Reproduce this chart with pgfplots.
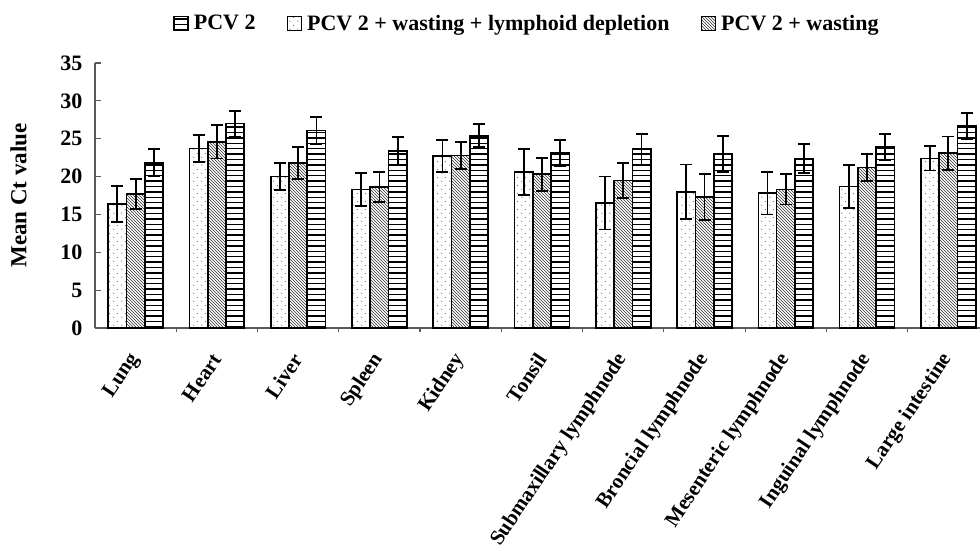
\documentclass[border=0pt]{standalone}
\usepackage{pgfplots}
\pgfplotsset{compat=1.18}
\usepackage{fontspec}
\setmainfont{Liberation Serif}
\usetikzlibrary{patterns}

\pgfdeclarepatternformonly{sparsedots}{\pgfqpoint{0pt}{0pt}}{\pgfqpoint{8pt}{8pt}}{\pgfqpoint{8pt}{8pt}}{%
  \pgfpathcircle{\pgfqpoint{2pt}{2pt}}{0.6pt}%
  \pgfpathcircle{\pgfqpoint{6pt}{6pt}}{0.6pt}%
  \pgfusepath{fill}}
\pgfdeclarepatternformonly{hlines}{\pgfqpoint{-1pt}{0pt}}{\pgfqpoint{6pt}{5.4pt}}{\pgfqpoint{5.4pt}{5.4pt}}{%
  \pgfsetlinewidth{1.3pt}%
  \pgfpathmoveto{\pgfqpoint{-1pt}{2.7pt}}\pgfpathlineto{\pgfqpoint{6pt}{2.7pt}}%
  \pgfusepath{stroke}}
\pgfdeclarepatternformonly{nwlines}{\pgfqpoint{-1pt}{-1pt}}{\pgfqpoint{4pt}{4pt}}{\pgfqpoint{3pt}{3pt}}{%
  \pgfsetlinewidth{0.6pt}%
  \pgfpathmoveto{\pgfqpoint{0pt}{3pt}}\pgfpathlineto{\pgfqpoint{3.1pt}{-0.1pt}}%
  \pgfusepath{stroke}}

\begin{document}
\begin{tikzpicture}
\begin{axis}[
  scale only axis,
  width=885pt, height=265pt,
  xmin=-0.5, xmax=10.39,
  ymin=0, ymax=35,
  ytick={0,5,...,35},
  xtick={0,...,10},
  xticklabels={Lung,Heart,Liver,Spleen,Kidney,Tonsil,Submaxillary lymphnode,Broncial lymphnode,Mesenteric lymphnode,Inguinal lymphnode,Large intestine},
  minor xtick={0.5,1.5,...,9.5},
  major x tick style={draw=none},
  minor tick length=4pt,
  major tick length=6pt,
  tick align=inside,
  axis lines*=left,
  axis line style={black!65, line width=1.4pt},
  tick style={black!65, line width=1.2pt},
  /pgf/number format/assume math mode=true,
  yticklabel style={font=\fontsize{22}{22}\selectfont\bfseries, xshift=-9pt},
  xticklabel style={font=\fontsize{21}{21}\selectfont\bfseries, rotate=56, anchor=east, inner sep=1pt, yshift=-12pt, xshift=-17pt},
  ylabel={Mean Ct value},
  ylabel style={font=\fontsize{23}{23}\selectfont\bfseries, yshift=27pt},
  ybar,
  bar width=0.225,
  error bars/y dir=both,
  error bars/y explicit,
  error bars/error bar style={line width=1.8pt, black},
  error bars/error mark options={rotate=90, mark size=6pt, line width=1.8pt, black},
  every axis plot/.append style={draw=black, line width=1.7pt},
  legend columns=3,
  legend style={draw=none, at={(0.488,1)}, anchor=south, yshift=27pt,
    font=\fontsize{22}{22}\selectfont\bfseries,
    /tikz/every odd column/.append style={column sep=3pt},
    /tikz/every even column/.append style={column sep=29pt}},
  legend image code/.code={\draw[#1, line width=1.6pt] (0pt,-7pt) rectangle (14pt,7pt);},
]
% PCV 2 (horizontal lines), third bar
\addplot[pattern=hlines, bar shift=0.225] coordinates {
 (0,21.8) +- (0,1.8) (1,27.0) +- (0,1.7) (2,26.1) +- (0,1.8) (3,23.4) +- (0,1.8)
 (4,25.4) +- (0,1.5) (5,23.1) +- (0,1.7) (6,23.6) +- (0,2.0) (7,23.0) +- (0,2.4)
 (8,22.4) +- (0,1.9) (9,23.9) +- (0,1.7) (10,26.7) +- (0,1.7)};
\addlegendentry{PCV 2}
% PCV 2 + wasting + lymphoid depletion (dots), first bar
\addplot[pattern=sparsedots, pattern color=black!70, bar shift=-0.225] coordinates {
 (0,16.4) +- (0,2.4) (1,23.7) +- (0,1.8) (2,20.0) +- (0,1.8) (3,18.3) +- (0,2.2)
 (4,22.7) +- (0,2.1) (5,20.6) +- (0,3.0) (6,16.5) +- (0,3.5) (7,18.0) +- (0,3.6)
 (8,17.8) +- (0,2.8) (9,18.7) +- (0,2.8) (10,22.4) +- (0,1.6)};
\addlegendentry{PCV 2 + wasting + lymphoid depletion}
% PCV 2 + wasting (diagonal), middle bar
\addplot[pattern=nwlines, pattern color=black!80, bar shift=0] coordinates {
 (0,17.7) +- (0,2.0) (1,24.6) +- (0,2.2) (2,21.8) +- (0,2.1) (3,18.6) +- (0,2.0)
 (4,22.8) +- (0,1.8) (5,20.3) +- (0,2.2) (6,19.5) +- (0,2.3) (7,17.3) +- (0,3.0)
 (8,18.3) +- (0,2.0) (9,21.2) +- (0,1.8) (10,23.1) +- (0,2.2)};
\addlegendentry{PCV 2 + wasting}
\end{axis}
\pgfresetboundingbox
\path[use as bounding box] (-95pt,-223pt) rectangle (885pt,328pt);
\end{tikzpicture}
\end{document}
